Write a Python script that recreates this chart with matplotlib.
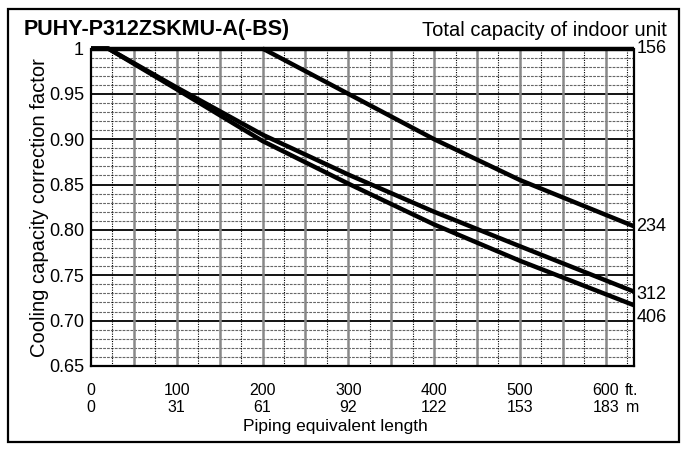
import matplotlib
matplotlib.use("Agg")
import matplotlib.pyplot as plt
from matplotlib.patches import Rectangle
import numpy as np

# -------------------------
# Data
# -------------------------
length_156 = [0, 633]
factor_156 = [1.0, 1.0]

length_234 = [200, 300, 400, 500, 633]
factor_234 = [1.0, 0.95, 0.90, 0.855, 0.804]

length_312 = [0, 20, 100, 200, 300, 400, 500, 633]
factor_312 = [1.0, 1.0, 0.957, 0.905, 0.861, 0.820, 0.782, 0.732]

length_406 = [0, 20, 100, 200, 300, 400, 500, 633]
factor_406 = [1.0, 1.0, 0.955, 0.898, 0.851, 0.806, 0.766, 0.717]

capacity_labels = ["156", "234", "312", "406"]
label_y = [1.0, 0.804, 0.729, 0.703]

ft_ticks = [0, 100, 200, 300, 400, 500, 600]
m_labels = ["0", "31", "61", "92", "122", "153", "183"]
y_ticks = [0.65, 0.70, 0.75, 0.80, 0.85, 0.90, 0.95, 1.0]
y_labels = ["0.65", "0.70", "0.75", "0.80", "0.85", "0.90", "0.95", "1"]

plt.rcParams["font.family"] = ["Liberation Sans", "DejaVu Sans"]

W, H = 686, 450
fig = plt.figure(figsize=(W / 100, H / 100), dpi=100)

# outer frame
fig.patches.append(Rectangle((8 / W, 8 / H), 671 / W, 433 / H, transform=fig.transFigure,
                             fill=False, edgecolor="black", linewidth=1.6))

ax = fig.add_axes([91 / W, 1 - 366 / H, 543 / W, 317.5 / H])
ax.set_xlim(0, 633)
ax.set_ylim(0.65, 1.0)

# -------------------------
# Grid
# -------------------------
for y in np.arange(0.65, 1.0, 0.01):
    if abs(round(y / 0.05) * 0.05 - y) < 1e-6:
        ax.axhline(y, color="black", lw=1.3, zorder=1)
    else:
        ax.axhline(y, color="#666666", lw=0.8, dashes=(2.5, 1), zorder=1)

for x in range(25, 633, 25):
    if x % 50 == 0:
        ax.axvline(x, color="#888888", lw=1.8, zorder=1)
    else:
        ax.axvline(x, color="black", lw=0.8, ls=(0, (1, 1.2)), zorder=1)

# -------------------------
# Curves
# -------------------------
for xs, ys in [(length_156, factor_156), (length_234, factor_234),
               (length_312, factor_312), (length_406, factor_406)]:
    ax.plot(xs, ys, color="black", lw=3.2, solid_capstyle="butt", clip_on=False, zorder=3)

for lab, yv in zip(capacity_labels, label_y):
    ax.text(636, yv, lab, fontsize=13, va="center", ha="left")

# -------------------------
# Axes styling
# -------------------------
for side in ["left", "right", "bottom"]:
    ax.spines[side].set_linewidth(1.6)
ax.spines["top"].set_visible(False)

ax.set_yticks(y_ticks)
ax.set_yticklabels(y_labels, fontsize=13)
ax.tick_params(axis="y", length=0, pad=5)
ax.set_xticks([])

ax.set_ylabel("Cooling capacity correction factor", fontsize=14.5, labelpad=0)

for ft, m in zip(ft_ticks, m_labels):
    ax.text(ft, -0.076, str(ft), fontsize=11.5, ha="center", va="center",
            transform=ax.get_xaxis_transform())
    ax.text(ft, -0.13, m, fontsize=11.5, ha="center", va="center",
            transform=ax.get_xaxis_transform())
ax.text(622, -0.076, "ft.", fontsize=11.5, ha="left", va="center",
        transform=ax.get_xaxis_transform())
ax.text(624, -0.13, "m", fontsize=11.5, ha="left", va="center",
        transform=ax.get_xaxis_transform())

fig.text(335 / W, 1 - 426 / H, "Piping equivalent length", fontsize=12.5, ha="center", va="center")

fig.text(24 / W, 1 - 29 / H, "PUHY-P312ZSKMU-A(-BS)", fontsize=15.5, fontweight="bold",
         ha="left", va="center")
fig.text(667 / W, 1 - 30 / H, "Total capacity of indoor unit", fontsize=14.5,
         ha="right", va="center")

fig.savefig("out.png", dpi=100)
